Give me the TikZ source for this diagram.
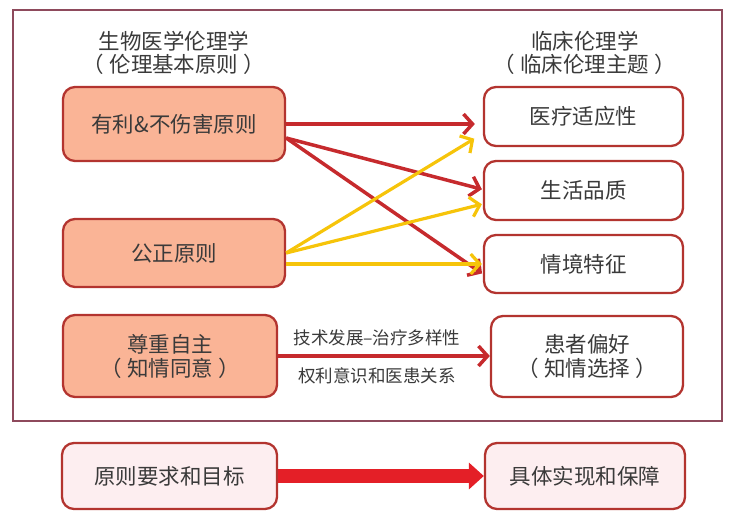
\documentclass[tikz,border=0pt]{standalone}
\usepackage{fontspec}
\setmainfont{Noto Sans CJK SC}
\usetikzlibrary{arrows.meta,positioning}

\definecolor{textgray}{HTML}{3A3A3A}
\definecolor{boxred}{HTML}{B3342F}
\definecolor{salmon}{HTML}{FAB496}
\definecolor{palepink}{HTML}{FDEEF0}
\definecolor{framered}{HTML}{8E4A5C}
\definecolor{arrowred}{HTML}{C62A2D}
\definecolor{arrowyellow}{HTML}{F6C40A}
\definecolor{bigred}{HTML}{E41F27}

\newcommand{\paren}[1]{（\hspace{0.25em}#1\hspace{0.25em}）}

\begin{document}
\begin{tikzpicture}
		[
			x=1pt, y=-1pt,
			align=center,
			every node/.style={text=textgray},
			box/.style={draw=boxred, line width=2.3pt, rounded corners=12pt,
				font=\fontsize{21.5}{24}\selectfont, inner sep=0pt},
			rule/.style={box, fill=salmon, minimum width=222pt},
			topic/.style={box, fill=white, minimum width=199pt},
			head/.style={font=\fontsize{21.5}{23}\selectfont},
			label/.style={draw=none, fill=none, font=\fontsize{17.5}{20}\selectfont},
			redarrow/.style={-{Straight Barb[length=9pt,width=20pt]}, draw=arrowred, line width=3.5pt},
			yellowarrow/.style={-{Straight Barb[length=9pt,width=20pt]}, draw=arrowyellow, line width=3.2pt},
			bigarrow/.style={-{Triangle[length=15pt,width=26pt]}, draw=bigred, fill=bigred, line width=14pt}
		]

		\useasboundingbox (0,0) rectangle (737,522);

		% frame
		\draw[framered, line width=1.4pt] (13,10) rectangle (722,421);

		% headings
		\node[head] (bioethics)	at ( 174.0,  53.0 ) {生物医学伦理学\\\paren{伦理基本原则}};
		\node[head] (clinethics)	at ( 585.0,  53.0 ) {临床伦理学\\\paren{临床伦理主题}};

		% principles
		\node[rule, minimum height=74pt]	(benefit)	at ( 174.0, 124.0 ) {有利\&不伤害原则};
		\node[rule, minimum height=68pt]	(justice)	at ( 174.0, 253.0 ) {公正原则};
		\node[rule, minimum height=82pt, minimum width=214pt]	(autonomy)	at ( 170.0, 356.0 ) {尊重自主\\\paren{知情同意}};

		% topics
		\node[topic, minimum height=59pt]	(indication)	at ( 583.5, 116.5 ) {医疗适应性};
		\node[topic, minimum height=59pt]	(quality)	at ( 583.5, 190.5 ) {生活品质};
		\node[topic, minimum height=58pt]	(context)	at ( 583.5, 264.0 ) {情境特征};
		\node[topic, minimum height=81pt, minimum width=192pt]	(preference)	at ( 587.0, 356.5 ) {患者偏好\\\paren{知情选择}};

		% bottom row
		\node[box, fill=palepink, minimum width=215pt, minimum height=66pt]	(aims)	at ( 169.5, 476.0 ) {原则要求和目标};
		\node[box, fill=palepink, minimum width=200pt, minimum height=66pt]	(practice)	at ( 585.0, 476.0 ) {具体实现和保障};

		% autonomy arrow labels
		\node[label] (techlabel)	at ( 377.0, 338.0 ) {技术发展–治疗多样性};
		\node[label] (rightlabel)	at ( 377.0, 376.0 ) {权利意识和医患关系};

		% red paths
		\draw[redarrow, shorten >=8pt] (benefit.east) -- (benefit.east -| indication.west);
		\foreach \to/\dy in {quality/1,context/-10}
		\draw[redarrow, shorten >=1pt] ([yshift=-14pt]benefit.east) -- ([yshift=\dy pt]\to.west);

		% yellow paths
		\draw[yellowarrow, shorten >=10pt] (justice.east) -- ([yshift=-17pt]indication.west);
		\draw[yellowarrow, shorten >=1pt] (justice.east) -- ([yshift=-13.5pt]quality.west);
		\draw[yellowarrow, shorten >=1pt] (justice.east |- context.west) -- (context.west);

		% autonomy to preference
		\draw[redarrow] (autonomy.east) -- (autonomy.east -| preference.west);

		% bottom arrow
		\draw[bigarrow] (aims.east) -- (practice.west);

	\end{tikzpicture}
\end{document}
